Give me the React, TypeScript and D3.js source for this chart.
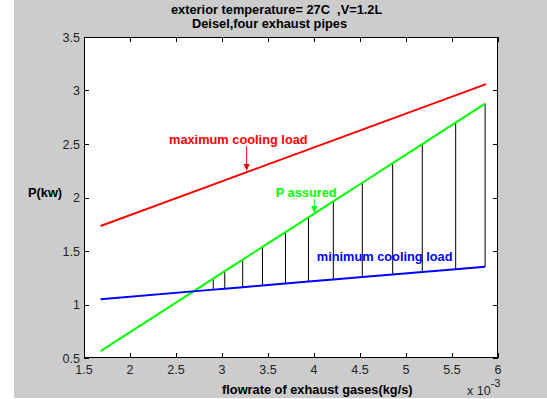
import React from "react";
import * as d3 from "d3";

// Flowrate of exhaust gases, in units of 1e-3 kg/s
const flow = [1.68, 2.905, 3.03, 3.225, 3.44, 3.69, 3.94, 4.21, 4.525, 4.855, 5.177, 5.54, 5.86];
const pAssured = [0.565, 1.242, 1.312, 1.419, 1.538, 1.677, 1.815, 1.964, 2.138, 2.321, 2.499, 2.7, 2.877];
const minLoad = [1.05, 1.139, 1.148, 1.162, 1.178, 1.196, 1.214, 1.233, 1.256, 1.28, 1.304, 1.33, 1.353];
const maxFlow = [1.68, 5.87];
const maxLoad = [1.734, 3.06];

const xTicks = [1.5, 2, 2.5, 3, 3.5, 4, 4.5, 5, 5.5, 6];
const yTicks = [0.5, 1, 1.5, 2, 2.5, 3, 3.5];

const titleLines = ["exterior temperature= 27C  ,V=1.2L", "Deisel,four exhaust pipes"];
const xLabel = "flowrate of exhaust gases(kg/s)";
const yLabel = "P(kw)";

const W = 547;
const H = 399;
const L = 84, R = 498, T = 37, B = 358;

export default function App() {
  const x = d3.scaleLinear().domain([1.5, 6]).range([L, R]);
  const y = d3.scaleLinear().domain([0.5, 3.5]).range([B, T]);
  const line = d3
    .line<[number, number]>()
    .x((d) => x(d[0]))
    .y((d) => y(d[1]));

  const greenPts = flow.map((f, i) => [f, pAssured[i]] as [number, number]);
  const bluePts = flow.map((f, i) => [f, minLoad[i]] as [number, number]);
  const redPts = maxFlow.map((f, i) => [f, maxLoad[i]] as [number, number]);

  const bold = { fontFamily: "'Liberation Sans', Arial, sans-serif", fontWeight: 700, fontSize: 12.8, whiteSpace: "pre" as const };
  const reg = { fontFamily: "'Liberation Sans', Arial, sans-serif", fontSize: 12.5, fill: "#222" };
  const tick = 5;

  const arrow = (xv: number, y0: number, y1: number, color: string) => {
    const px = x(xv);
    const a = y(y0);
    const b = y(y1);
    return (
      <g>
        <line x1={px} x2={px} y1={a} y2={b - 5} stroke={color} strokeWidth={1} />
        <path d={`M${px - 3},${b - 7} L${px + 3},${b - 7} L${px},${b} Z`} fill={color} />
      </g>
    );
  };

  return (
    <svg width={W} height={H} style={{ position: "absolute", left: 0, top: 0 }}>
      <rect x={0} y={0} width={W} height={H} fill="#fff" />
      <rect x={14} y={0} width={W - 14} height={398} fill="#cccccc" />
      <rect x={L} y={T} width={R - L} height={B - T} fill="#fff" />

      {/* stems */}
      {flow.slice(1).map((f, j) => (
        <line key={j} x1={x(f)} x2={x(f)} y1={y(minLoad[j + 1])} y2={y(pAssured[j + 1])} stroke="#000" strokeWidth={1} />
      ))}

      <path d={line(redPts) || ""} fill="none" stroke="#ff0000" strokeWidth={2} />
      <path d={line(greenPts) || ""} fill="none" stroke="#00ff00" strokeWidth={2} />
      <path d={line(bluePts) || ""} fill="none" stroke="#0000ff" strokeWidth={2} />

      {/* axes box & ticks */}
      <rect x={L + 0.5} y={T + 0.5} width={R - L - 1} height={B - T - 1} fill="none" stroke="#000" strokeWidth={1} />
      {xTicks.map((t) => {
        const px = Math.round(x(t)) + 0.5;
        return (
          <g key={"x" + t}>
            <line x1={px} x2={px} y1={B} y2={B - tick} stroke="#000" />
            <line x1={px} x2={px} y1={T} y2={T + tick} stroke="#000" />
            <text x={x(t)} y={374} textAnchor="middle" style={reg}>
              {String(t)}
            </text>
          </g>
        );
      })}
      {yTicks.map((t) => {
        const py = Math.round(y(t)) + 0.5;
        return (
          <g key={"y" + t}>
            <line x1={L} x2={L + tick} y1={py} y2={py} stroke="#000" />
            <line x1={R} x2={R - tick} y1={py} y2={py} stroke="#000" />
            <text x={80} y={y(t) + 4.5} textAnchor="end" style={reg}>
              {String(t)}
            </text>
          </g>
        );
      })}

      {/* titles and labels */}
      <text x={171} y={14} style={bold}>{titleLines[0]}</text>
      <text x={192} y={28} style={bold}>{titleLines[1]}</text>
      <text x={222} y={394} style={bold}>{xLabel}</text>
      <text x={28} y={197} style={bold}>{yLabel}</text>
      <text x={467} y={395} style={reg}>
        x 10
        <tspan dy={-8} fontSize={11}>-3</tspan>
      </text>

      {/* annotations */}
      <text x={x(2.424)} y={y(2.5)} style={{ ...bold, fill: "#ff0000" }}>maximum cooling load</text>
      {arrow(3.268, 2.481, 2.248, "#ff0000")}
      <text x={x(3.584)} y={y(2.005)} style={{ ...bold, fill: "#00ff00" }}>P assured</text>
      {arrow(4.003, 1.986, 1.855, "#00ff00")}
      <text x={x(4.03)} y={y(1.41)} style={{ ...bold, fill: "#0000ff" }}>minimum cooling load</text>
    </svg>
  );
}
